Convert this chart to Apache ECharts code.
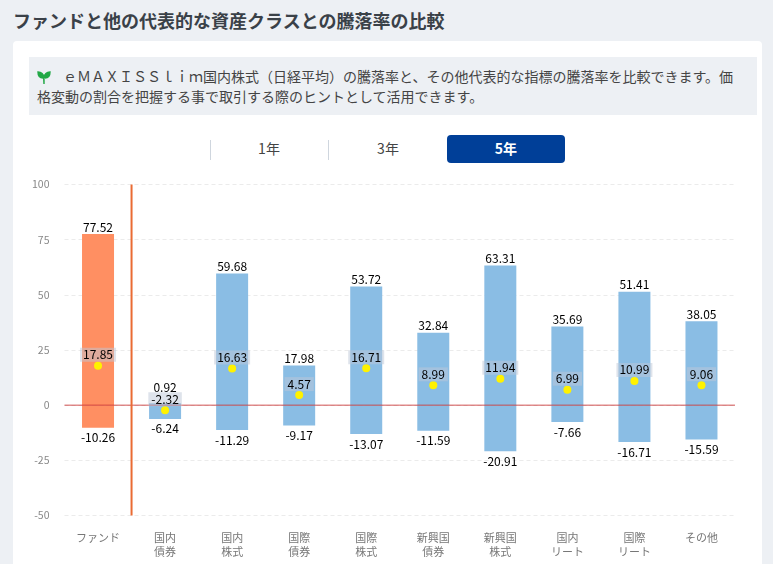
<!DOCTYPE html>
<html lang="ja"><head><meta charset="utf-8">
<style>
html,body{margin:0;padding:0;width:773px;height:564px;overflow:hidden;background:#edf0f4;font-family:"Noto Sans CJK JP","Noto Sans",sans-serif;color:#333;text-spacing-trim:space-all}
#title{position:absolute;left:13px;top:7px;font-size:18px;font-weight:700;line-height:26px;color:#3a4148;white-space:nowrap}
#card{position:absolute;left:13px;top:41px;width:749px;height:540px;background:#fff;border-radius:4px}
#note{position:absolute;left:29px;top:57px;width:728px;height:58px;background:#edf0f4;font-size:14px;line-height:20px;color:#444}
#note div{position:absolute;left:8px;top:9px;width:710px}
#note svg{display:inline-block;vertical-align:-2px;margin-right:12px}
.tab{position:absolute;top:135px;width:118px;height:28px;line-height:27px;text-align:center;font-size:14px;color:#444}
.tab.on{background:#003f98;color:#fff;font-weight:700;border-radius:4px}
.sep{position:absolute;top:140px;height:20px;width:1px;background:#cfd6de}
#chart{position:absolute;left:0;top:0;width:773px;height:564px}
</style>
<script src="https://cdn.jsdelivr.net/npm/echarts@6/dist/echarts.min.js"></script>
</head><body>
<div id="title">ファンドと他の代表的な資産クラスとの騰落率の比較</div>
<div id="card"></div>
<div id="note"><div><svg width="14" height="14" viewBox="0 0 14 14"><path d="M7 14V8C7 4 4 2 1 2c0 4 2 6 5 6M7 8c0-4 3-6 6-6 0 4-2 6-5 6" fill="#22a846" stroke="#22a846" stroke-width="1.4"/></svg>ｅＭＡＸＩＳＳｌｉｍ国内株式（日経平均）の騰落率と、その他代表的な指標の騰落率を比較できます。価格変動の割合を把握する事で取引する際のヒントとして活用できます。</div></div>
<div class="sep" style="left:210px"></div><div class="sep" style="left:328px"></div>
<div class="tab" style="left:210px">1年</div><div class="tab" style="left:329px">3年</div><div class="tab on" style="left:447px">5年</div>
<div id="chart"></div>
<script>
const categories = ['ファンド','国内\n債券','国内\n株式','国際\n債券','国際\n株式','新興国\n債券','新興国\n株式','国内\nリート','国際\nリート','その他'];
const maxValues = [77.52,0.92,59.68,17.98,53.72,32.84,63.31,35.69,51.41,38.05];
const minValues = [-10.26,-6.24,-11.29,-9.17,-13.07,-11.59,-20.91,-7.66,-16.71,-15.59];
const avgValues = [17.85,-2.32,16.63,4.57,16.71,8.99,11.94,6.99,10.99,9.06];
const dividerLine = [[1,-50],[1,100]];
const zeroLine = [[0,0],[10,0]];
const fundColor = '#ff8f62', otherColor = '#8abde4';
const font = '"Noto Sans CJK JP","Noto Sans",sans-serif';
const colorOf = p => p.dataIndex === 0 ? fundColor : otherColor;
const fmt = p => Number(p.value).toFixed(2);
const chart = echarts.init(document.getElementById('chart'), null, {renderer:'canvas'});
chart.setOption({
  animation:false,
  backgroundColor:'transparent',
  textStyle:{fontFamily:font},
  grid:{left:64.5,right:38,top:184.5,bottom:48.5},
  xAxis:[{type:'category',data:categories,
    axisLine:{show:false},axisTick:{show:false},splitLine:{show:false},
    axisLabel:{color:'#777',fontSize:11,lineHeight:14,margin:15,interval:0,fontFamily:font}
  },{type:'value',min:0,max:10,show:false}],
  yAxis:{type:'value',min:-50,max:100,interval:25,
    axisLine:{show:false},axisTick:{show:false},
    axisLabel:{color:'#888',fontSize:10.5,margin:15,fontFamily:font},
    splitLine:{lineStyle:{color:'#ebebeb',type:[4,3],width:1}}
  },
  series:[
    {name:'最大',type:'bar',stack:'r',barWidth:32,data:maxValues,itemStyle:{color:colorOf},z:2,
      label:{show:true,position:'top',distance:1,color:'#000',fontSize:12,formatter:fmt,fontFamily:font},
      labelLayout:p=>p.dataIndex===1?{dy:-9}:{}},
    {name:'最小',type:'bar',stack:'r',barWidth:32,data:minValues,itemStyle:{color:colorOf},z:2,
      label:{show:true,position:'bottom',distance:4,color:'#000',fontSize:12,formatter:fmt,fontFamily:font}},
    {name:'ゼロ',type:'line',xAxisIndex:1,data:zeroLine,symbol:'none',silent:true,z:4,
      lineStyle:{color:'rgba(200,40,40,0.8)',width:1}},
    {name:'区切り',type:'line',xAxisIndex:1,data:dividerLine,symbol:'none',silent:true,z:4,
      lineStyle:{color:'#ea6b33',width:2}},
    {name:'平均',type:'scatter',data:avgValues,symbol:'circle',symbolSize:8,z:5,
      itemStyle:{color:'#fff200',opacity:1},
      label:{show:true,position:'top',distance:0,color:'#000',fontSize:12,lineHeight:14,formatter:fmt,
        backgroundColor:'rgba(190,200,215,0.5)',padding:[0,3],fontFamily:font}}
  ]
});
</script>
</body></html>
